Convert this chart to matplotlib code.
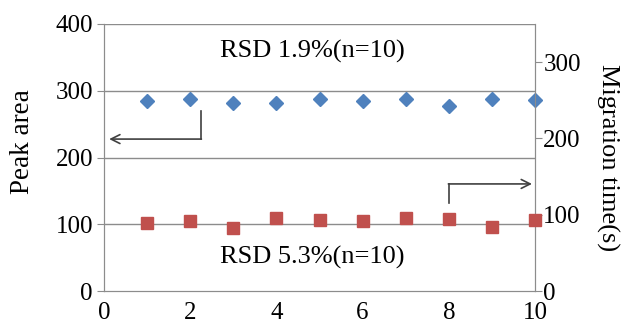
import matplotlib
matplotlib.use("Agg")
import matplotlib.pyplot as plt

runs = [1, 2, 3, 4, 5, 6, 7, 8, 9, 10]
peak_area = [285, 287, 282, 282, 288, 284, 288, 277, 288, 286]
migration_time = [89, 92, 82, 96, 93, 92, 96, 94, 84, 93]
left_ticks = [0, 100, 200, 300, 400]
right_ticks = [0, 100, 200, 300]
x_ticks = [0, 2, 4, 6, 8, 10]

plt.rcParams['font.family'] = ['Liberation Serif', 'DejaVu Serif']
fig = plt.figure(figsize=(6.25, 3.31), dpi=100)
ax = fig.add_axes([104/625, 1-291/331, 431/625, 267/331])
ax2 = ax.twinx()

grid_c = '#8c8c8c'
ax.set_xlim(0, 10)
ax.set_ylim(0, 400)
ax2.set_ylim(0, 350)
ax.set_yticks(left_ticks)
ax2.set_yticks(right_ticks)
ax.set_xticks(x_ticks)
for y in left_ticks[1:]:
    ax.axhline(y, color=grid_c, lw=1, zorder=0)

ax.plot(runs, peak_area, linestyle='none', marker='D', ms=7, color='#4F81BD', clip_on=False, zorder=3)
ax2.plot(runs, migration_time, linestyle='none', marker='s', ms=8.5, color='#C0504D', clip_on=False, zorder=3)

for a in (ax, ax2):
    a.spines['top'].set_visible(False)
    for s in ('left', 'right', 'bottom'):
        a.spines[s].set_color(grid_c)
ax.tick_params(axis='y', direction='out', length=5, color=grid_c, labelsize=18, pad=3)
ax2.tick_params(axis='y', direction='out', length=5, color=grid_c, labelsize=18, pad=1)
ax.tick_params(axis='x', length=0, labelsize=18, pad=8)

ax.set_ylabel('Peak area', fontsize=19.5, va='center')
ax.yaxis.set_label_coords(-0.19, 0.56)
ax2.set_ylabel('Migration time(s)', fontsize=19, rotation=-90, va='center')
ax2.yaxis.set_label_coords(1.169, 0.5)

ax.text(0.483, 0.899, 'RSD 1.9%(n=10)', transform=ax.transAxes, ha='center', va='center', fontsize=19)
ax.text(0.483, 0.124, 'RSD 5.3%(n=10)', transform=ax.transAxes, ha='center', va='center', fontsize=19)

ac = '#404040'
ax.plot([0.225, 0.225], [0.674, 0.569], transform=ax.transAxes, color=ac, lw=1.2)
ax.annotate('', xy=(0.012, 0.569), xytext=(0.226, 0.569), xycoords='axes fraction',
            arrowprops=dict(arrowstyle='->', color=ac, lw=1.2, mutation_scale=16, shrinkA=0, shrinkB=0))
ax.plot([0.800, 0.800], [0.330, 0.401], transform=ax.transAxes, color=ac, lw=1.2)
ax.annotate('', xy=(0.993, 0.401), xytext=(0.799, 0.401), xycoords='axes fraction',
            arrowprops=dict(arrowstyle='->', color=ac, lw=1.2, mutation_scale=16, shrinkA=0, shrinkB=0))

fig.savefig('out.png', dpi=100)
